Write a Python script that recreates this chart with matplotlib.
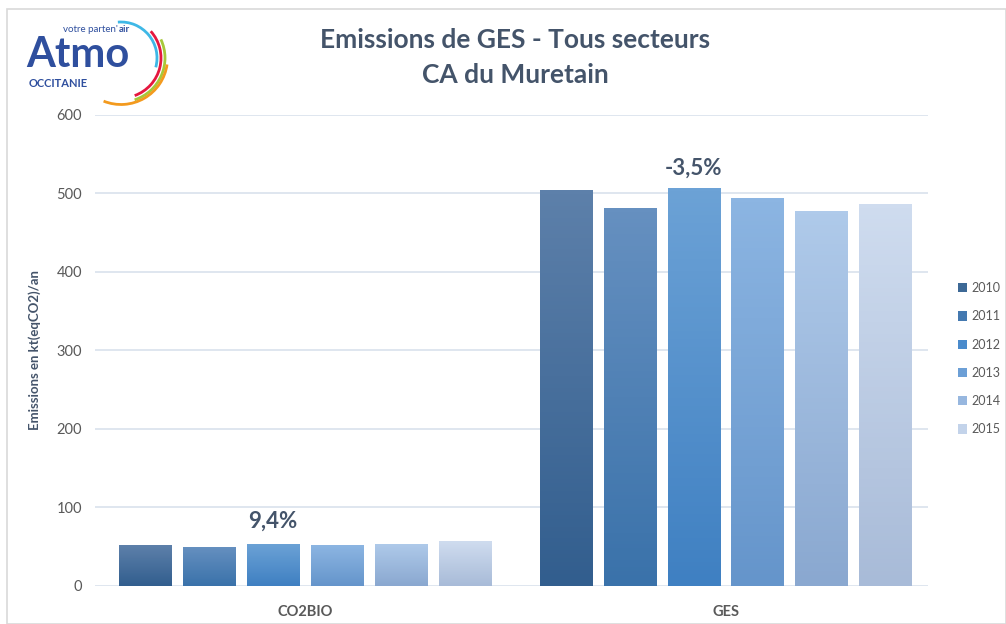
import matplotlib.pyplot as plt
import numpy as np
from matplotlib.colors import LinearSegmentedColormap
from matplotlib.patches import Rectangle, Arc

plt.rcParams['font.family'] = ['Lato', 'DejaVu Sans']

categories = ["CO2BIO", "GES"]
years = ["2010", "2011", "2012", "2013", "2014", "2015"]
values = {
    "2010": [52, 504],
    "2011": [50, 481],
    "2012": [54, 507],
    "2013": [52, 494],
    "2014": [54, 478],
    "2015": [57, 486],
}
changes = ["9,4%", "-3,5%"]

# gradient colours (top, bottom) per year
grad = [("#5d80aa", "#325e8e"), ("#6690c0", "#3a72aa"), ("#6ca2d6", "#3f80c2"),
        ("#8cb5e2", "#6595cb"), ("#afcaea", "#8aa8d0"), ("#cfdcef", "#a8bbd8")]
leg_cols = ["#3d6996", "#4479b0", "#4a8bcc", "#6c9fd6", "#97b7df", "#c3d3ea"]

text_col = "#44546a"
tick_col = "#595959"
grid_col = "#d9e1ec"

fig = plt.figure(figsize=(10.06, 6.24), dpi=100)
fig.patches.append(Rectangle((7/1006, 0), 1 - 7/1006, 1 - 9/624, transform=fig.transFigure,
                             fill=False, edgecolor="#d9d9d9", lw=1.2))
ax = fig.add_axes([0.094, 0.061, 0.828, 0.755])

n = len(years)
step = 0.152
width = 0.124
x = np.arange(len(categories))
for i, yr in enumerate(years):
    pos = x + (i - (n - 1) / 2) * step
    bars = ax.bar(pos, values[yr], width, color="none", edgecolor="none", zorder=3)
    cmap = LinearSegmentedColormap.from_list("g%d" % i, [grad[i][1], grad[i][0]])
    for b in bars:
        x0 = b.get_x()
        h = b.get_height()
        img = ax.imshow(np.linspace(0, 1, 100).reshape(-1, 1), cmap=cmap, origin="lower",
                        extent=[x0, x0 + width, 0, h], aspect="auto", zorder=3)
        img.set_clip_path(b)
    ax.bar([0], [0], color=leg_cols[i], label=yr)

for j, c in enumerate(changes):
    top = max(values[yr][j] for yr in years)
    ax.text(x[j] - 0.5 * step, top + 12, c, ha="center", va="bottom",
            fontsize=16, fontweight="bold", color=text_col)

ax.set_xlim(-0.5, 1.48)
ax.set_ylim(0, 600)
ax.set_yticks(range(0, 601, 100))
ax.set_xticks(x)
ax.set_xticklabels(categories, fontweight="bold")
ax.grid(axis="y", color=grid_col, lw=1.2, zorder=0)
ax.set_axisbelow(True)
for s in ax.spines.values():
    s.set_visible(False)
ax.tick_params(axis="both", length=0, colors=tick_col, labelsize=10.5, pad=9)
ax.tick_params(axis="x", pad=14)
ax.set_ylabel("Emissions en kt(eqCO2)/an", fontsize=9.5, fontweight="bold",
              color=text_col, labelpad=11)

fig.text(0.512, 0.936, "Emissions de GES - Tous secteurs", ha="center", va="center",
         fontsize=19, fontweight="bold", color=text_col)
fig.text(0.512, 0.88, "CA du Muretain", ha="center", va="center",
         fontsize=19, fontweight="bold", color=text_col)

leg = fig.legend(loc="upper left", bbox_to_anchor=(0.952, 0.548), frameon=False,
                 fontsize=9, handlelength=0.75, handleheight=0.75, handletextpad=0.35,
                 labelspacing=1.3, labelcolor=tick_col, borderpad=0, borderaxespad=0)

# logo
fig.text(0.026, 0.912, "Atmo", fontsize=30, fontweight="bold", color="#2f4f9e",
         ha="left", va="center")
fig.text(0.1175, 0.953, "votre parten'", fontsize=7, color="#2f4f9e", ha="right", va="center")
fig.text(0.1185, 0.953, "air", fontsize=7, fontweight="bold", color="#2f4f9e",
         ha="left", va="center")
fig.text(0.028, 0.866, "OCCITANIE", fontsize=8, fontweight="bold", color="#2f4f9e",
         ha="left", va="center")
lax = fig.add_axes([71/1006, 1 - 108/624, 100/1006, 100/624])
lax.set_xlim(-1, 1)
lax.set_ylim(-1, 1)
lax.axis("off")
for r, c, t1, t2 in [(0.72, "#3fb8e6", -15, 95), (0.8, "#e5173f", -70, 42),
                     (0.88, "#a6c83a", -72, 25), (0.93, "#f39a1e", -112, -8)]:
    lax.add_patch(Arc((0, 0), 2 * r, 2 * r, theta1=t1, theta2=t2, color=c, lw=2))

fig.savefig("out.png", dpi=100)
